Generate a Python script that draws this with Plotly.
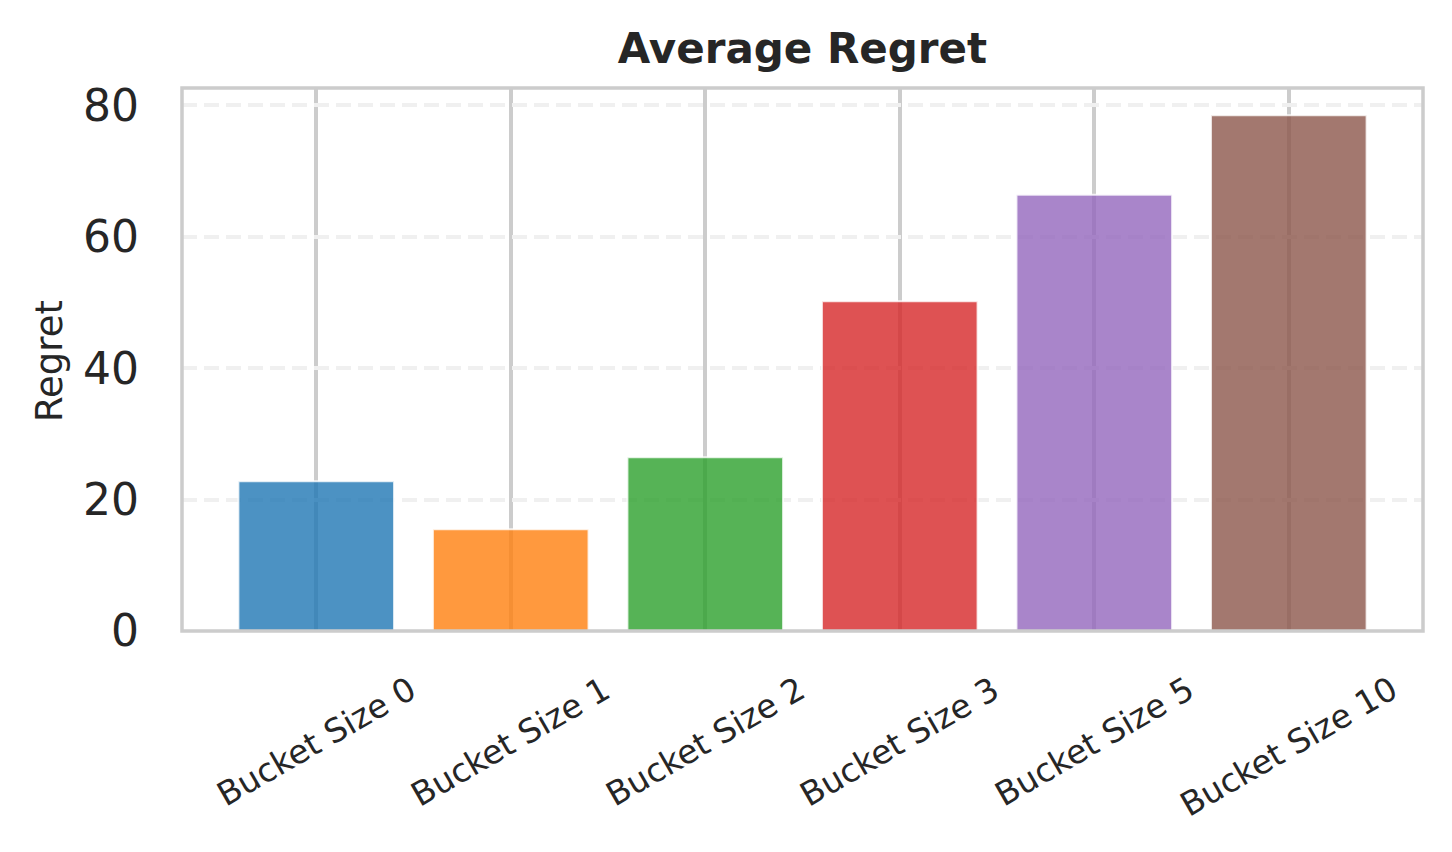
import plotly.graph_objects as go

# ---- data ----
categories = ["Bucket Size 0", "Bucket Size 1", "Bucket Size 2",
              "Bucket Size 3", "Bucket Size 5", "Bucket Size 10"]
regret = [22.8, 15.5, 26.45, 50.2, 66.4, 78.5]
bar_colors = ["#1f77b4", "#ff7f0e", "#2ca02c", "#d62728", "#9467bd", "#8c564b"]
y_ticks = [0, 20, 40, 60, 80]
title_text = "Average Regret"
y_label = "Regret"

W, H = 1452, 852
OFF = 8  # page body margin
L, T = 182 - OFF, 88 - OFF
R = W - (1423.5 - OFF)
B = H - (631 - OFF)
PW, PH = W - L - R, H - T - B
FONT = "DejaVu Sans"
TXT = "#262626"


def hex_rgba(h, a):
    h = h.lstrip("#")
    r, g, b = int(h[0:2], 16), int(h[2:4], 16), int(h[4:6], 16)
    return f"rgba({r},{g},{b},{a})"


fig = go.Figure()
fig.add_trace(go.Bar(
    x=categories,
    y=regret,
    width=0.8,
    marker=dict(
        color=[hex_rgba(c, 0.8) for c in bar_colors],
        line=dict(color="rgba(255,255,255,0.8)", width=2),
    ),
    hoverinfo="x+y",
))

# rotated, centered x tick labels (matplotlib-style)
for c in categories:
    fig.add_annotation(
        x=c, xref="x",
        y=(631 - 666) / PH, yref="paper",
        text=c, showarrow=False, textangle=-30,
        xanchor="center", yanchor="top",
        font=dict(family=FONT, size=33, color=TXT),
    )

# y axis label
fig.add_annotation(
    x=(50 - 182) / PW, xref="paper",
    y=(631 - 361) / PH, yref="paper",
    text=y_label, showarrow=False, textangle=-90,
    xanchor="center", yanchor="middle",
    font=dict(family=FONT, size=37, color=TXT),
)

# frame (spines)
fig.add_shape(type="rect", xref="paper", yref="paper", x0=0, x1=1, y0=0, y1=1,
              line=dict(color="#cccccc", width=3.5), layer="above")

fig.update_layout(
    width=W, height=H,
    margin=dict(l=L, r=R, t=T, b=B, pad=0),
    paper_bgcolor="white", plot_bgcolor="white",
    showlegend=False,
    title=dict(
        text=title_text, x=0.5, xref="paper", xanchor="center",
        y=1 - (48 - OFF) / H, yref="container", yanchor="middle",
        font=dict(family=FONT, size=42, color=TXT, weight="bold"),
    ),
    font=dict(family=FONT, color=TXT),
    bargap=0.2,
)
fig.update_xaxes(
    type="category",
    range=[-0.69, len(categories) - 1 + 0.69],
    showticklabels=False, ticks="",
    showgrid=True, gridcolor="#cccccc", gridwidth=3.5,
    showline=False, zeroline=False,
)
fig.update_yaxes(
    range=[0, max(regret) * 1.053],
    tickvals=y_ticks, ticktext=[str(v) for v in y_ticks],
    ticks="", ticklabelstandoff=42,
    tickfont=dict(family=FONT, size=44, color=TXT),
    showgrid=True, gridcolor="#f0f0f0", gridwidth=4, griddash="15px,7px",
    showline=False, zeroline=False,
)

fig.write_html("out.html")
